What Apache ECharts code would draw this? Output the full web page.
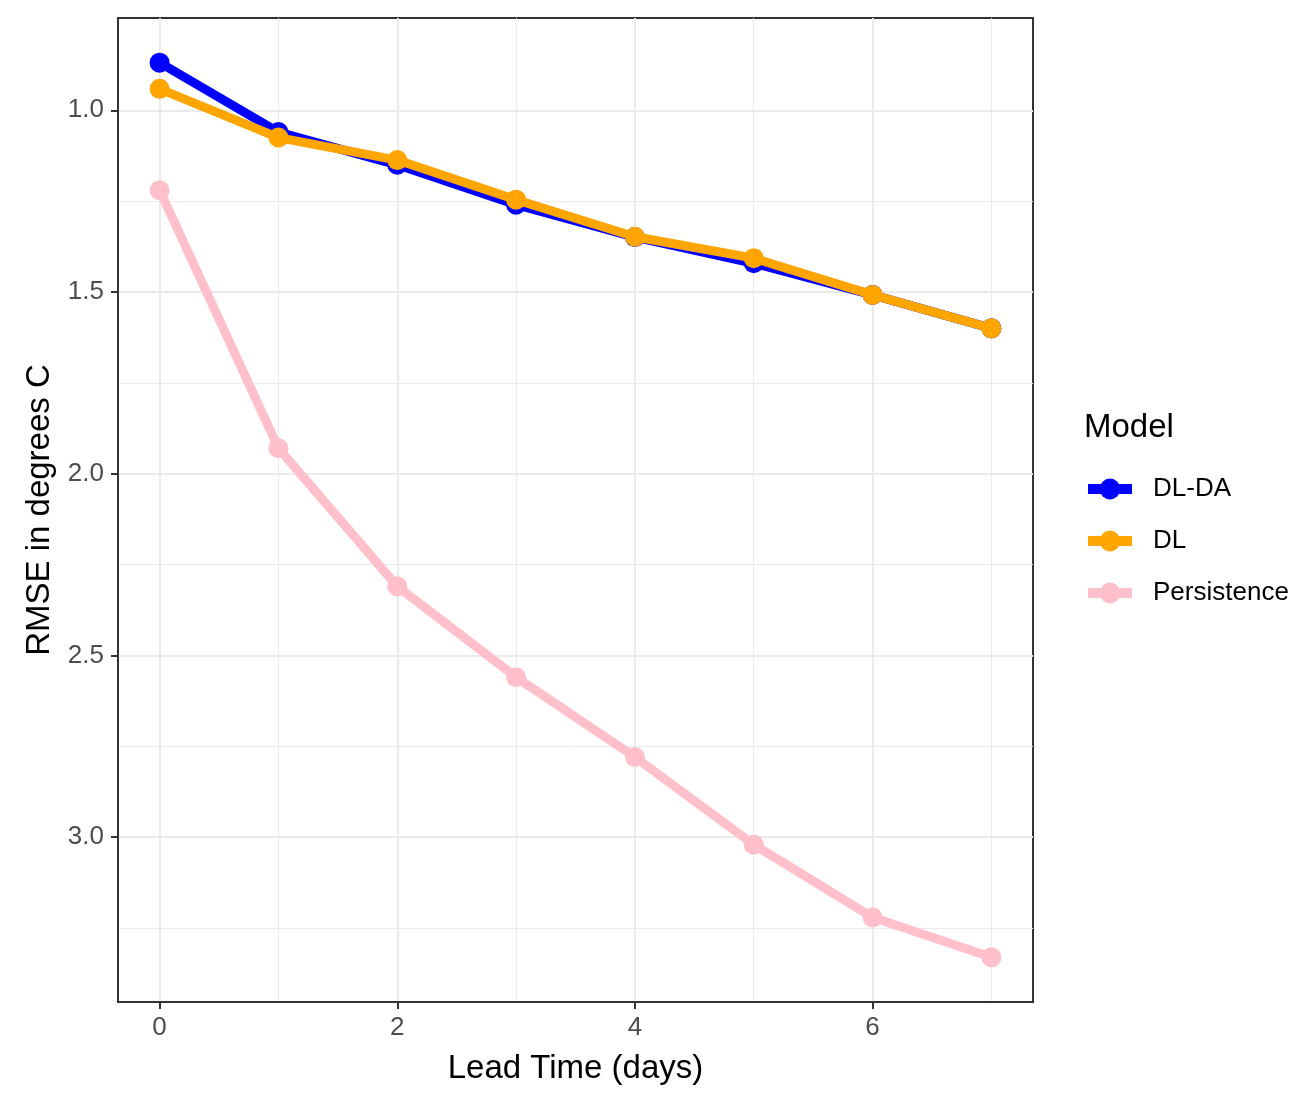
<!DOCTYPE html>
<html><head><meta charset="utf-8">
<script src="https://cdn.jsdelivr.net/npm/echarts@6/dist/echarts.min.js"></script>
<style>html,body{margin:0;padding:0;background:#fff}#c{width:1307px;height:1096px}</style>
</head><body><div id="c"></div>
<script>
const leadDays = [0, 1, 2, 3, 4, 5, 6, 7];
const dlda = [0.869, 1.060, 1.150, 1.260, 1.349, 1.421, 1.508, 1.600];
const dl = [0.941, 1.075, 1.137, 1.246, 1.348, 1.407, 1.508, 1.600];
const persistence = [1.220, 1.930, 2.310, 2.560, 2.780, 3.021, 3.221, 3.331];
const xMajorTicks = [0, 2, 4, 6];
const xMinorTicks = [1, 3, 5, 7];
const yMajorTicks = [1.0, 1.5, 2.0, 2.5, 3.0];
const yMinorTicks = [1.25, 1.75, 2.25, 2.75, 3.25];
const seriesNames = ['DL-DA', 'DL', 'Persistence'];
const seriesColors = ['#0000FF', '#FFA500', '#FFC0CB'];
const seriesValues = [dlda, dl, persistence];

const FONT = '"Liberation Sans", Arial, sans-serif';
const X_MIN = -0.35, X_MAX = 7.35, Y_MIN = 0.746, Y_MAX = 3.454;

const chart = echarts.init(document.getElementById('c'), null, {renderer: 'canvas'});
const gridLine = (w) => ({show: true, lineStyle: {color: '#EBEBEB', width: w}});

chart.setOption({
  animation: false,
  backgroundColor: '#fff',
  textStyle: {fontFamily: FONT},
  title: {
    text: 'Model', left: 1079, top: 406,
    textStyle: {fontFamily: FONT, fontSize: 33, fontWeight: 'normal', color: '#000'}
  },
  legend: {
    data: seriesNames, orient: 'vertical', left: 1078, top: 471,
    itemWidth: 44, itemHeight: 26, itemGap: 26,
    lineStyle: {width: 10},
    textStyle: {fontFamily: FONT, fontSize: 26, color: '#000', padding: [0, 0, 0, 16]}
  },
  grid: {
    left: 118, top: 18, width: 915, height: 984,
    show: true, borderColor: '#333333', borderWidth: 2, backgroundColor: 'transparent'
  },
  xAxis: [
    {
      type: 'value', min: X_MIN, max: X_MAX, position: 'bottom',
      axisLine: {show: true, onZero: false, lineStyle: {color: '#333', width: 2}},
      axisTick: {show: true, customValues: xMajorTicks, length: 7, lineStyle: {color: '#333333', width: 2}},
      axisLabel: {customValues: xMajorTicks, formatter: v => String(v), fontSize: 26, color: '#4D4D4D', margin: 13, fontFamily: FONT},
      splitLine: gridLine(2),
      name: 'Lead Time (days)', nameLocation: 'middle', nameGap: 50,
      nameTextStyle: {fontSize: 33, color: '#000', fontFamily: FONT}
    },
    {
      type: 'value', min: X_MIN, max: X_MAX, position: 'top',
      axisLine: {show: false, onZero: false},
      axisTick: {show: false, customValues: xMinorTicks},
      axisLabel: {show: false, customValues: xMinorTicks},
      splitLine: gridLine(1)
    }
  ],
  yAxis: [
    {
      type: 'value', inverse: true, min: Y_MIN, max: Y_MAX, position: 'left',
      axisLine: {show: true, onZero: false, lineStyle: {color: '#333', width: 2}},
      axisTick: {show: true, customValues: yMajorTicks, length: 7, lineStyle: {color: '#333333', width: 2}},
      axisLabel: {customValues: yMajorTicks, formatter: v => v.toFixed(1), fontSize: 26, color: '#4D4D4D', margin: 14, fontFamily: FONT},
      splitLine: gridLine(2),
      name: 'RMSE in degrees C', nameLocation: 'middle', nameGap: 62, nameRotate: 90,
      nameTextStyle: {fontSize: 33, color: '#000', fontFamily: FONT}
    },
    {
      type: 'value', inverse: true, min: Y_MIN, max: Y_MAX, position: 'right',
      axisLine: {show: false, onZero: false},
      axisTick: {show: false, customValues: yMinorTicks},
      axisLabel: {show: false, customValues: yMinorTicks},
      splitLine: gridLine(1)
    }
  ],
  series: seriesNames.map((name, s) => ({
    name: name, type: 'line', xAxisIndex: 0, yAxisIndex: 0,
    data: leadDays.map((d, i) => [d, seriesValues[s][i]]),
    symbol: 'circle', symbolSize: 20, showSymbol: true,
    lineStyle: {color: seriesColors[s], width: 9},
    itemStyle: {color: seriesColors[s]},
    emphasis: {disabled: true}, z: 3 + s
  }))
});
</script></body></html>
